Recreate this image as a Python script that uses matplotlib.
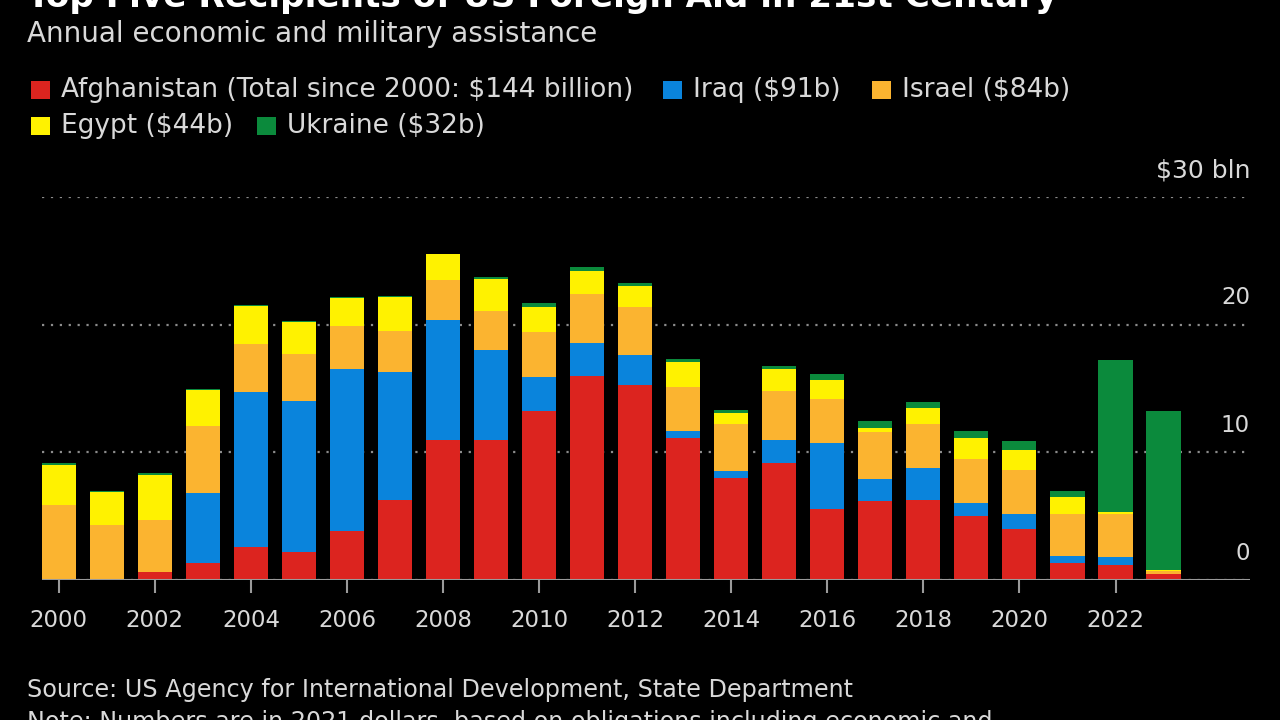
import matplotlib.pyplot as plt
from matplotlib.patches import Rectangle
import numpy as np

# Данные (млрд долл., в ценах 2021 г.)
years = list(range(2000, 2024))
afghanistan = [0.0, 0.1, 0.6, 1.3, 2.6, 2.2, 3.8, 6.3, 11.0, 11.0, 13.2, 16.0,
               15.3, 11.1, 8.0, 9.2, 5.6, 6.2, 6.3, 5.0, 4.0, 1.3, 1.2, 0.45]
iraq = [0.0, 0.0, 0.0, 5.5, 12.1, 11.8, 12.7, 10.0, 9.4, 7.0, 2.7, 2.6,
        2.3, 0.55, 0.55, 1.8, 5.1, 1.7, 2.5, 1.0, 1.2, 0.6, 0.6, 0.05]
israel = [5.9, 4.2, 4.1, 5.3, 3.8, 3.7, 3.4, 3.2, 3.1, 3.1, 3.5, 3.8,
          3.8, 3.5, 3.7, 3.8, 3.5, 3.7, 3.4, 3.5, 3.4, 3.3, 3.4, 0.2]
egypt = [3.1, 2.6, 3.5, 2.8, 3.0, 2.5, 2.2, 2.7, 2.0, 2.5, 2.0, 1.8,
         1.6, 1.9, 0.8, 1.7, 1.5, 0.3, 1.3, 1.6, 1.6, 1.3, 0.1, 0.05]
ukraine = [0.2, 0.1, 0.15, 0.05, 0.05, 0.05, 0.05, 0.05, 0.05, 0.15, 0.3, 0.3,
           0.3, 0.25, 0.3, 0.3, 0.45, 0.55, 0.45, 0.55, 0.65, 0.45, 11.9, 12.45]

series = [afghanistan, iraq, israel, egypt, ukraine]
colors = ['#dc241f', '#0a84dc', '#fbb430', '#fff200', '#0b8a3c']
labels = ['Afghanistan (Total since 2000: $144 billion)', 'Iraq ($91b)',
          'Israel ($84b)', 'Egypt ($44b)', 'Ukraine ($32b)']

xticks = list(range(2000, 2023, 2))
yticks = [0, 10, 20, 30]
ytick_labels = ['0', '10', '20', '$30 bln']

W, H = 1280, 720
txt = '#d9d9d9'

fig = plt.figure(figsize=(12.8, 7.2), dpi=100, facecolor='black')
plt.rcParams['font.family'] = ['DejaVu Sans']

def fx(px):
    return px / W

def fy(py):
    return 1 - py / H

ax = fig.add_axes([fx(42), fy(580), fx(1250) - fx(42), fy(197) - fy(580)])
ax.set_facecolor('black')

# Столбцы
bottom = np.zeros(len(years))
for vals, c in zip(series, colors):
    ax.bar(years, vals, bottom=bottom, width=0.71, color=c, linewidth=0, zorder=2)
    bottom += np.array(vals)

ax.set_xlim(1999.65, 2024.8)
ax.set_ylim(0, 30)

# Сетка
ax.set_yticks(yticks)
ax.tick_params(axis='y', length=0, labelleft=False, labelright=False)
ax.yaxis.grid(True, color='#8c8c8c', linestyle=(0, (1, 3)), linewidth=1.6, zorder=0)
ax.set_axisbelow(True)
ax.axhline(0, color='#9a9a9a', linewidth=2.2, zorder=3)

for spine in ax.spines.values():
    spine.set_visible(False)

ax.set_xticks(xticks)
ax.tick_params(axis='x', length=9, width=1.5, color='#9a9a9a', pad=12,
               labelsize=16.5, labelcolor=txt)

for v, lab in zip(yticks, ytick_labels):
    ax.text(2024.8, v + 2.1, lab, ha='right', va='center',
            fontsize=18 if 'bln' in lab else 16.5, color=txt)

# Заголовки
fig.text(fx(27), fy(7), 'Top Five Recipients of US Foreign Aid in 21st Century',
         fontsize=24.7, fontweight='bold', color='white', va='baseline')
fig.text(fx(27), fy(34), 'Annual economic and military assistance',
         fontsize=20, color=txt, va='center')

# Легенда
legend_pos = [(31, 90, 61), (663, 90, 693), (872, 90, 902), (31, 126, 61), (257, 126, 287)]
for (sx, sy, tx), c, lab in zip(legend_pos, colors, labels):
    fig.add_artist(Rectangle((fx(sx), fy(sy + 9)), fx(19), 18 / H,
                             transform=fig.transFigure, color=c, linewidth=0))
    fig.text(fx(tx), fy(sy), lab, fontsize=19, color=txt, va='center')

# Подписи источника
fig.text(fx(27), fy(690), 'Source: US Agency for International Development, State Department',
         fontsize=17.2, color=txt, va='center')
fig.text(fx(27), fy(722), 'Note: Numbers are in 2021 dollars, based on obligations including economic and',
         fontsize=17.2, color=txt, va='center')

fig.savefig('out.png', dpi=100, facecolor='black')
